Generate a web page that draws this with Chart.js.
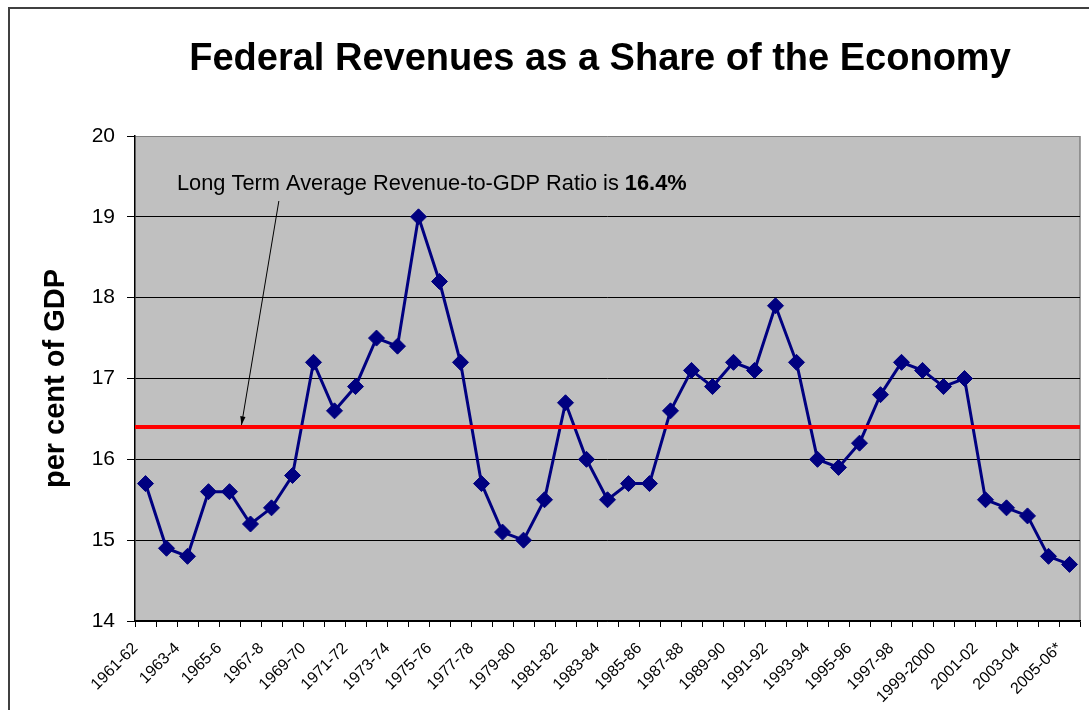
<!DOCTYPE html>
<html>
<head>
<meta charset="utf-8">
<script src="https://cdn.jsdelivr.net/npm/chart.js@4/dist/chart.umd.min.js"></script>
<style>
  html, body { margin: 0; padding: 0; background: #fff; }
  #wrap { width: 1089px; height: 710px; position: relative; }
</style>
</head>
<body>
<div id="wrap"><canvas id="canvas"></canvas></div>
<script>
const years = [
    '1961-62', '1962-3', '1963-4', '1964-5', '1965-6', '1966-7', '1967-8', '1968-9',
    '1969-70', '1970-71', '1971-72', '1972-73', '1973-74', '1974-75', '1975-76', '1976-77',
    '1977-78', '1978-79', '1979-80', '1980-81', '1981-82', '1982-83', '1983-84', '1984-85',
    '1985-86', '1986-87', '1987-88', '1988-89', '1989-90', '1990-91', '1991-92', '1992-93',
    '1993-94', '1994-95', '1995-96', '1996-97', '1997-98', '1998-99', '1999-2000', '2000-01',
    '2001-02', '2002-03', '2003-04', '2004-05', '2005-06*'
];
const revenueShare = [
    15.7, 14.9, 14.8, 15.6, 15.6, 15.2, 15.4, 15.8,
    17.2, 16.6, 16.9, 17.5, 17.4, 19.0, 18.2, 17.2,
    15.7, 15.1, 15.0, 15.5, 16.7, 16.0, 15.5, 15.7,
    15.7, 16.6, 17.1, 16.9, 17.2, 17.1, 17.9, 17.2,
    16.0, 15.9, 16.2, 16.8, 17.2, 17.1, 16.9, 17.0,
    15.5, 15.4, 15.3, 14.8, 14.7
];
const avgRatio = 16.4;
const yTicks = [14, 15, 16, 17, 18, 19, 20];

const FONT = '"Liberation Sans", Arial, sans-serif';
const TITLE = 'Federal Revenues as a Share of the Economy';

// gray plot background, page frame and the heading
const backdrop = {
    id: 'backdrop',
    beforeDraw(chart) {
        const { ctx, chartArea: a } = chart;
        ctx.save();
        ctx.fillStyle = '#fff';
        ctx.fillRect(0, 0, chart.width, chart.height);
        ctx.strokeStyle = '#404040';
        ctx.lineWidth = 2;
        ctx.beginPath();
        ctx.moveTo(9, chart.height);
        ctx.lineTo(9, 8);
        ctx.lineTo(chart.width, 8);
        ctx.stroke();
        ctx.fillStyle = '#c0c0c0';
        ctx.fillRect(a.left, a.top, a.right - a.left, a.bottom - a.top);
        ctx.strokeStyle = '#808080';
        ctx.lineWidth = 1.5;
        ctx.beginPath();
        ctx.moveTo(a.right, a.top);
        ctx.lineTo(a.right, a.bottom);
        ctx.stroke();

        // heading, centred over the plot
        ctx.fillStyle = '#000';
        ctx.font = 'bold 38px ' + FONT;
        ctx.textAlign = 'center';
        ctx.textBaseline = 'alphabetic';
        ctx.fillText(TITLE, 600, 70);
        ctx.restore();
    }
};

// average line, note and arrow
const average = {
    id: 'average',
    afterDatasetsDraw(chart) {
        const { ctx, chartArea: a, scales: { x, y } } = chart;
        const yAvg = y.getPixelForValue(avgRatio);
        ctx.save();
        ctx.strokeStyle = '#ff0000';
        ctx.lineWidth = 4;
        ctx.beginPath();
        ctx.moveTo(a.left, yAvg);
        ctx.lineTo(a.right, yAvg);
        ctx.stroke();

        // note text
        const tx = 177;
        const ty = 190;
        ctx.fillStyle = '#000';
        ctx.textBaseline = 'alphabetic';
        ctx.textAlign = 'left';
        ctx.font = '21.8px ' + FONT;
        const part = 'Long Term Average Revenue-to-GDP Ratio is ';
        ctx.fillText(part, tx, ty);
        const w = ctx.measureText(part).width;
        ctx.font = 'bold 21.8px ' + FONT;
        ctx.fillText(avgRatio.toFixed(1) + '%', tx + w, ty);

        // arrow from the note down to the line
        const x0 = x.getPixelForValue(6.35), y0 = 201;
        const x1 = x.getPixelForValue(4.57), y1 = yAvg - 2;
        ctx.strokeStyle = '#000';
        ctx.lineWidth = 1;
        ctx.beginPath();
        ctx.moveTo(x0, y0);
        ctx.lineTo(x1, y1);
        ctx.stroke();
        const ang = Math.atan2(y1 - y0, x1 - x0);
        const len = 9, spread = 0.3;
        ctx.beginPath();
        ctx.moveTo(x1, y1);
        ctx.lineTo(x1 - len * Math.cos(ang - spread), y1 - len * Math.sin(ang - spread));
        ctx.lineTo(x1 - len * Math.cos(ang + spread), y1 - len * Math.sin(ang + spread));
        ctx.closePath();
        ctx.fill();
        ctx.restore();
    }
};

const ctx = document.getElementById('canvas').getContext('2d');
const myChart = new Chart(ctx, {
    type: 'line',
    data: {
        labels: years,
        datasets: [{
            label: 'Revenue share of GDP',
            data: revenueShare,
            borderColor: '#000080',
            backgroundColor: '#000080',
            borderWidth: 3,
            pointStyle: 'rectRot',
            pointRadius: 8,
            pointBorderWidth: 1,
            pointBackgroundColor: '#000080',
            pointBorderColor: '#000080',
            tension: 0,
            fill: false
        }]
    },
    options: {
        responsive: true,
        maintainAspectRatio: false,
        animation: false,
        layout: { padding: { left: 0, right: 2, top: 136, bottom: 0 } },
        plugins: {
            legend: { display: false },
            tooltip: { enabled: false },
            title: { display: false }
        },
        scales: {
            x: {
                offset: true,
                grid: {
                    offset: true,
                    drawOnChartArea: false,
                    color: '#000',
                    tickLength: 6
                },
                border: { color: '#000', width: 1.5 },
                ticks: {
                    autoSkip: false,
                    maxRotation: 45,
                    minRotation: 45,
                    color: '#000',
                    font: { family: FONT, size: 16 },
                    padding: 12,
                    labelOffset: -10,
                    callback: (v, i) => (i % 2 === 0 ? years[i] : '')
                },
                afterFit: (scale) => {
                    scale.height = 89;
                    scale.paddingLeft = 0;
                    scale.paddingRight = 0;
                }
            },
            y: {
                min: yTicks[0],
                max: yTicks[yTicks.length - 1],
                afterBuildTicks: (scale) => { scale.ticks = yTicks.map(v => ({ value: v })); },
                grid: {
                    color: (c) => (c.tick && c.tick.value === 20 ? '#808080' : '#000'),
                    tickColor: '#000',
                    tickLength: 8
                },
                border: { color: '#000', width: 1.5 },
                ticks: {
                    color: '#000',
                    font: { family: FONT, size: 21 },
                    padding: 12
                },
                title: {
                    display: true,
                    text: 'per cent of GDP',
                    color: '#000',
                    font: { family: FONT, size: 29, weight: 'bold' },
                    padding: { top: 39, bottom: 0 }
                },
                afterFit: (scale) => { scale.width = 135; }
            }
        }
    },
    plugins: [backdrop, average]
});
</script>
</body>
</html>
